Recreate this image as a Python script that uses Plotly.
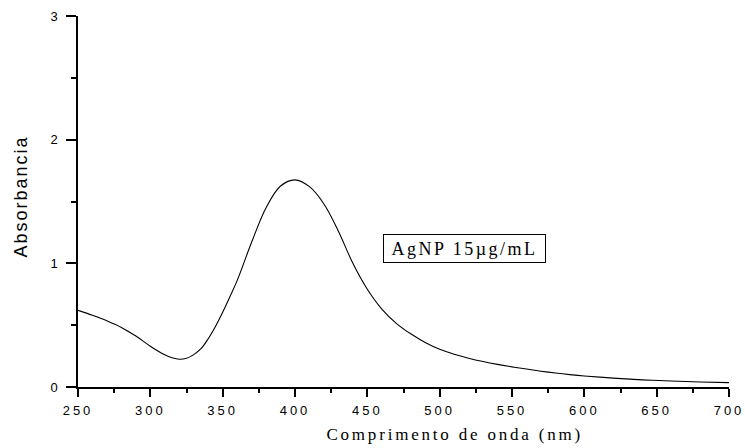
import plotly.graph_objects as go

wavelength = [250, 260, 270, 280, 290, 300, 310, 315, 320, 325, 330, 335, 340, 345, 350, 355, 360, 370, 380, 390,
              400, 410, 420, 430, 440, 450, 460, 470, 480, 490, 500, 510, 520, 530, 540,
              550, 560, 570, 580, 590, 600, 620, 640, 660, 680, 700]
absorbance = [0.62, 0.58, 0.535, 0.482, 0.412, 0.33, 0.26, 0.236, 0.224, 0.232, 0.262, 0.31, 0.39, 0.49, 0.605,
              0.73, 0.86, 1.17, 1.45, 1.625,
              1.675, 1.62, 1.48, 1.26, 1.00, 0.79, 0.63, 0.515, 0.43, 0.36, 0.305, 0.265, 0.233, 0.206, 0.183,
              0.163, 0.145, 0.128, 0.113, 0.1, 0.089, 0.072, 0.058, 0.048, 0.041, 0.035]

x_ticks = [250, 300, 350, 400, 450, 500, 550, 600, 650, 700]
y_ticks = [0, 1, 2, 3]
label_text = "AgNP 15µg/mL"
x_title = "Comprimento de onda (nm)"
y_title = "Absorbancia"

fig = go.Figure()
fig.add_trace(go.Scatter(x=wavelength, y=absorbance, mode="lines",
                         line=dict(color="black", width=1.1, shape="spline", smoothing=1.0),
                         showlegend=False, hoverinfo="skip"))

fig.add_annotation(x=517, y=1.12, xref="x", yref="y", text=label_text, showarrow=False,
                   font=dict(family="Liberation Serif", size=18, color="black"),
                   bordercolor="black", borderwidth=1, borderpad=3, bgcolor="white",
                   width=155, height=21)
fig.add_annotation(x=0.578, y=-0.129, xref="paper", yref="paper", text=x_title, showarrow=False,
                   font=dict(family="Liberation Serif", size=17, color="black"),
                   xanchor="center", yanchor="middle")
fig.add_annotation(x=-0.0883, y=0.515, xref="paper", yref="paper", text=y_title, showarrow=False,
                   textangle=-90,
                   font=dict(family="Liberation Sans", size=18, color="black"),
                   xanchor="center", yanchor="middle")

fig.update_layout(
    width=745, height=448,
    margin=dict(l=78, r=16, t=16, b=61),
    paper_bgcolor="white", plot_bgcolor="white",
    font=dict(family="Liberation Sans", color="black"),
)
fig.update_xaxes(range=[250, 700], tickvals=x_ticks, ticks="outside", ticklen=8, tickwidth=1.5,
                 tickcolor="black", showline=True, linecolor="black", linewidth=1.5,
                 showgrid=False, zeroline=False, ticklabelstandoff=3, automargin=False,
                 tickfont=dict(family="Liberation Sans", size=13, color="black"),
                 minor=dict(dtick=25, ticks="outside", ticklen=4, tickwidth=1.5, tickcolor="black", showgrid=False))
fig.update_yaxes(range=[0, 3], tickvals=y_ticks, ticks="outside", ticklen=10, tickwidth=1.5,
                 tickcolor="black", showline=True, linecolor="black", linewidth=1.5,
                 showgrid=False, zeroline=False, ticklabelstandoff=6, automargin=False,
                 tickfont=dict(family="Liberation Sans", size=13, color="black"),
                 minor=dict(dtick=0.5, ticks="outside", ticklen=5, tickwidth=1.5, tickcolor="black", showgrid=False))

post = """
var gd = document.getElementById('{plot_id}');
function ls(){
  gd.querySelectorAll('.xtick text').forEach(function(t){t.style.letterSpacing='3px';});
  var anns = gd.querySelectorAll('.annotation-text');
  var sp = ['2.5px','2.8px','2px'];
  anns.forEach(function(t,i){t.style.letterSpacing=sp[i]||'0px';});
}
ls();
gd.on('plotly_afterplot', ls);
"""
fig.write_html("out.html", post_script=post)
